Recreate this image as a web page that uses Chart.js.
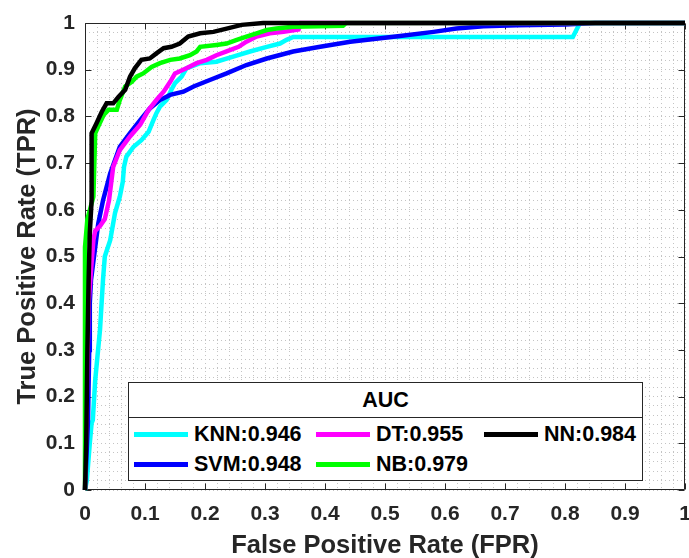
<!DOCTYPE html>
<html>
<head>
<meta charset="utf-8">
<script src="https://cdn.jsdelivr.net/npm/chart.js@4.4.0/dist/chart.umd.min.js"></script>
<style>
html, body { margin: 0; padding: 0; background: #fff; }
#wrap { position: relative; width: 689px; height: 558px; overflow: hidden; }
#c { position: absolute; left: 0; top: 0; }
#legend { position: absolute; left: 128px; top: 382px; width: 515px; height: 99px; box-sizing: border-box;
  border: 1px solid #262626; background: #fff; font-family: "Liberation Sans", Arial, sans-serif; font-weight: bold; color: #000; }
#legTitle { position: absolute; left: 0; top: 0; width: 100%; height: 34px; line-height: 34px; text-align: center;
  font-size: 21.5px; border-bottom: 1px solid #262626; }
.entry { position: absolute; height: 26px; display: flex; align-items: center; font-size: 21.5px; white-space: nowrap; }
.sample { width: 54px; height: 5px; margin-right: 6px; }
</style>
</head>
<body>
<div id="wrap">
  <canvas id="c" width="689" height="558"></canvas>
  <div id="legend"><div id="legTitle">AUC</div></div>
</div>
<script>
// ---------- data ----------
const modelNames = ['KNN', 'SVM', 'DT', 'NB', 'NN'];
const aucValues = ['0.946', '0.948', '0.955', '0.979', '0.984'];
const legendTitle = 'AUC';
const xTitle = 'False Positive Rate (FPR)';
const yTitle = 'True Positive Rate (TPR)';
const tickLabels = ['0', '0.1', '0.2', '0.3', '0.4', '0.5', '0.6', '0.7', '0.8', '0.9', '1'];

const knnFpr = [0, 0.003, 0.008, 0.011, 0.013, 0.017, 0.025, 0.03, 0.033, 0.042, 0.05, 0.058, 0.063, 0.065, 0.069, 0.081, 0.094, 0.106, 0.114, 0.119, 0.125, 0.136, 0.144, 0.15, 0.161, 0.169, 0.192, 0.219, 0.247, 0.275, 0.303, 0.325, 0.336, 0.347, 0.813, 0.825, 1];
const knnTpr = [0, 0.02, 0.1, 0.143, 0.15, 0.235, 0.343, 0.45, 0.5, 0.535, 0.593, 0.628, 0.66, 0.692, 0.714, 0.735, 0.749, 0.767, 0.792, 0.807, 0.821, 0.835, 0.857, 0.871, 0.885, 0.903, 0.914, 0.917, 0.928, 0.939, 0.949, 0.956, 0.964, 0.970, 0.970, 1, 1];

const svmFpr = [0, 0.005, 0.007, 0.008, 0.01, 0.017, 0.022, 0.03, 0.042, 0.058, 0.075, 0.092, 0.108, 0.125, 0.142, 0.164, 0.181, 0.208, 0.236, 0.269, 0.303, 0.347, 0.392, 0.442, 0.525, 0.581, 0.619, 0.664, 0.72, 0.8, 0.85, 1];
const svmTpr = [0, 0.15, 0.3, 0.4, 0.45, 0.52, 0.57, 0.62, 0.678, 0.735, 0.764, 0.792, 0.817, 0.835, 0.846, 0.853, 0.864, 0.878, 0.892, 0.91, 0.924, 0.939, 0.949, 0.96, 0.972, 0.981, 0.988, 0.993, 0.995, 0.997, 1, 1];

const dtFpr = [0, 0.003, 0.006, 0.01, 0.014, 0.017, 0.025, 0.033, 0.04, 0.047, 0.058, 0.075, 0.092, 0.106, 0.119, 0.131, 0.142, 0.15, 0.169, 0.186, 0.203, 0.219, 0.236, 0.256, 0.269, 0.286, 0.308, 0.331, 0.356, 0.36, 1];
const dtTpr = [0, 0.2, 0.4, 0.47, 0.535, 0.555, 0.565, 0.58, 0.62, 0.692, 0.728, 0.757, 0.782, 0.814, 0.835, 0.853, 0.874, 0.892, 0.903, 0.914, 0.921, 0.931, 0.939, 0.949, 0.96, 0.971, 0.978, 0.981, 0.986, 1, 1];

const nbFpr = [0, 0, 0, 0.004, 0.014, 0.017, 0.022, 0.031, 0.039, 0.053, 0.058, 0.067, 0.078, 0.086, 0.097, 0.111, 0.125, 0.142, 0.158, 0.175, 0.186, 0.192, 0.219, 0.236, 0.253, 0.269, 0.286, 0.303, 0.319, 0.347, 0.43, 0.435, 1];
const nbTpr = [0, 0.3, 0.52, 0.58, 0.628, 0.764, 0.778, 0.803, 0.814, 0.814, 0.835, 0.864, 0.874, 0.885, 0.892, 0.906, 0.914, 0.921, 0.924, 0.931, 0.939, 0.949, 0.953, 0.956, 0.964, 0.971, 0.978, 0.985, 0.988, 0.992, 0.994, 1, 1];

const nnFpr = [0, 0.002, 0.004, 0.006, 0.008, 0.011, 0.011, 0.019, 0.028, 0.036, 0.047, 0.056, 0.067, 0.075, 0.083, 0.094, 0.108, 0.119, 0.131, 0.144, 0.158, 0.172, 0.192, 0.214, 0.236, 0.261, 0.297, 1];
const nnTpr = [0, 0.1, 0.3, 0.45, 0.55, 0.62, 0.764, 0.785, 0.81, 0.828, 0.828, 0.842, 0.857, 0.885, 0.903, 0.921, 0.924, 0.935, 0.946, 0.949, 0.956, 0.971, 0.978, 0.981, 0.988, 0.996, 1, 1];

// ---------- styles ----------
const lineColors = ['#00FFFF', '#0000FF', '#FF00FF', '#00FF00', '#000000'];
const drawOrder = [5, 4, 3, 2, 1]; // lower = on top
const seriesFpr = [knnFpr, svmFpr, dtFpr, nbFpr, nnFpr];
const seriesTpr = [knnTpr, svmTpr, dtTpr, nbTpr, nnTpr];
const FONT = '"Liberation Sans", Arial, sans-serif';
const AX = '#262626';

const datasets = modelNames.map((name, i) => ({
  label: name + ':' + aucValues[i],
  data: seriesFpr[i].map((f, j) => ({ x: f, y: seriesTpr[i][j] })),
  borderColor: lineColors[i],
  backgroundColor: lineColors[i],
  borderWidth: 4.5,
  pointRadius: 0,
  tension: 0,
  fill: false,
  clip: 8,
  order: drawOrder[i]
}));

function labelFor(v) {
  const k = Math.round(v * 10);
  return Math.abs(v * 10 - k) < 1e-6 ? tickLabels[k] : '';
}

const framePlugin = {
  id: 'frame',
  beforeDatasetsDraw(chart) {
    const { ctx, chartArea: a, scales: { x, y } } = chart;
    const L = Math.round(a.left) + 0.5, R = Math.round(a.right) - 0.5;
    const T = Math.round(a.top) + 0.5, B = Math.round(a.bottom) - 0.5;
    ctx.save();
    ctx.strokeStyle = AX;
    ctx.lineWidth = 1;
    ctx.beginPath();
    ctx.rect(L, T, R - L, B - T);
    const tl = 6;
    tickLabels.forEach((_, k) => {
      const v = k / 10;
      const px = Math.round(x.getPixelForValue(v)) + 0.5;
      const py = Math.round(y.getPixelForValue(v)) + 0.5;
      ctx.moveTo(px, B); ctx.lineTo(px, B - tl);
      ctx.moveTo(px, T); ctx.lineTo(px, T + tl);
      ctx.moveTo(L, py); ctx.lineTo(L + tl, py);
      ctx.moveTo(R, py); ctx.lineTo(R - tl, py);
    });
    ctx.stroke();
    ctx.restore();
  }
};

const gridOpts = { color: '#c4c4c4', lineWidth: 1, drawTicks: false };
const borderOpts = { display: false, dash: [1, 3] };

new Chart(document.getElementById('c'), {
  type: 'line',
  data: { datasets },
  options: {
    responsive: false,
    animation: false,
    devicePixelRatio: 1,
    layout: { padding: { top: 23, right: 4, left: 0, bottom: 0 } },
    plugins: { legend: { display: false }, tooltip: { enabled: false } },
    scales: {
      x: {
        type: 'linear', min: 0, max: 1,
        grid: gridOpts, border: borderOpts,
        ticks: { stepSize: 0.02, autoSkip: false, maxRotation: 0, padding: 12,
          color: AX, font: { family: FONT, size: 21, weight: 'bold' }, callback: labelFor },
        title: { display: true, text: xTitle, color: AX, padding: { top: 0, bottom: -3 },
          font: { family: FONT, size: 25.5, weight: 'bold' } },
        afterFit(s) { s.height = 68; s.paddingLeft = 0; s.paddingRight = 0; }
      },
      y: {
        type: 'linear', min: 0, max: 1,
        grid: gridOpts, border: borderOpts,
        ticks: { stepSize: 0.02, autoSkip: false, padding: 10,
          color: AX, font: { family: FONT, size: 21, weight: 'bold' }, callback: labelFor },
        title: { display: true, text: yTitle, color: AX, padding: { top: 13, bottom: 0 },
          font: { family: FONT, size: 25.5, weight: 'bold' } },
        afterFit(s) { s.width = 85; }
      }
    }
  },
  plugins: [framePlugin]
});

// ---------- legend (real text) ----------
const legend = document.getElementById('legend');
document.getElementById('legTitle').textContent = legendTitle;
const colX = [5, 187, 355];
const rowY = [38, 68];
modelNames.forEach((name, i) => {
  const col = Math.floor(i / 2), row = i % 2;
  const e = document.createElement('div');
  e.className = 'entry';
  e.style.left = colX[col] + 'px';
  e.style.top = rowY[row] + 'px';
  const s = document.createElement('div');
  s.className = 'sample';
  s.style.background = lineColors[i];
  const t = document.createElement('span');
  t.textContent = name + ':' + aucValues[i];
  e.appendChild(s); e.appendChild(t);
  legend.appendChild(e);
});
</script>
</body>
</html>
